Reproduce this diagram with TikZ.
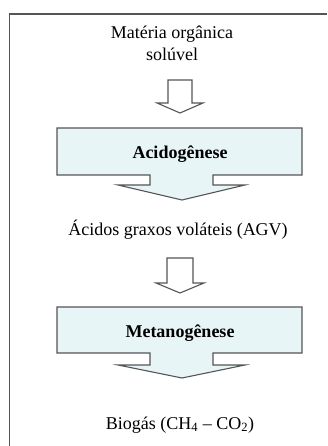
\documentclass[tikz,border=0pt]{standalone}
\usepackage{fontspec}
\setmainfont{Liberation Serif}
\definecolor{boxfill}{RGB}{232,245,247}
\definecolor{edge}{RGB}{85,85,85}
\tikzset{
  frame/.style={draw=edge, line width=1.6pt},
  callout/.style={draw=edge, fill=boxfill, line width=1.1pt, line join=miter},
  blockarrow/.style={draw=edge, fill=white, line width=1.1pt, line join=miter},
  lbl/.style={font=\fontsize{18}{22}\selectfont, align=center, inner sep=0pt},
  blbl/.style={font=\fontsize{18}{22}\selectfont\bfseries, inner sep=0pt}
}
\begin{document}
\begin{tikzpicture}[x=1pt,y=-1pt]
\useasboundingbox (0,0) rectangle (327,446);
% outer frame (top and left only visible)
\draw[frame] (327,14) -- (9.5,14) -- (9.5,446);
% text: input
\node[lbl] (mat) at (172,43) {Matéria orgânica\\solúvel};
% small arrow 1
\draw[blockarrow] (168,80) -- (192,80) -- (192,103) -- (203,103) -- (180,113) -- (157,103) -- (168,103) -- cycle;
% callout 1
\draw[callout] (57,128) -- (302,128) -- (302,175) -- (213,175) -- (213,185) -- (245,185) -- (182,200) -- (118,185) -- (150,185) -- (150,175) -- (57,175) -- cycle;
\node[blbl] (acid) at (180,154) {Acidogênese};
% AGV
\node[lbl] (agv) at (178,230) {Ácidos graxos voláteis (AGV)};
% small arrow 2
\draw[blockarrow] (167,258) -- (193,258) -- (193,283) -- (204,283) -- (180,293) -- (156,283) -- (167,283) -- cycle;
% callout 2
\draw[callout] (57,307) -- (302,307) -- (302,353) -- (213,353) -- (213,365) -- (245,365) -- (182,378) -- (118,365) -- (150,365) -- (150,353) -- (57,353) -- cycle;
\node[blbl] (meta) at (180,333) {Metanogênese};
% biogas
\node[lbl] (bio) at (180,425) {Biogás (CH\textsubscript{4} – CO\textsubscript{2})};
\end{tikzpicture}
\end{document}
